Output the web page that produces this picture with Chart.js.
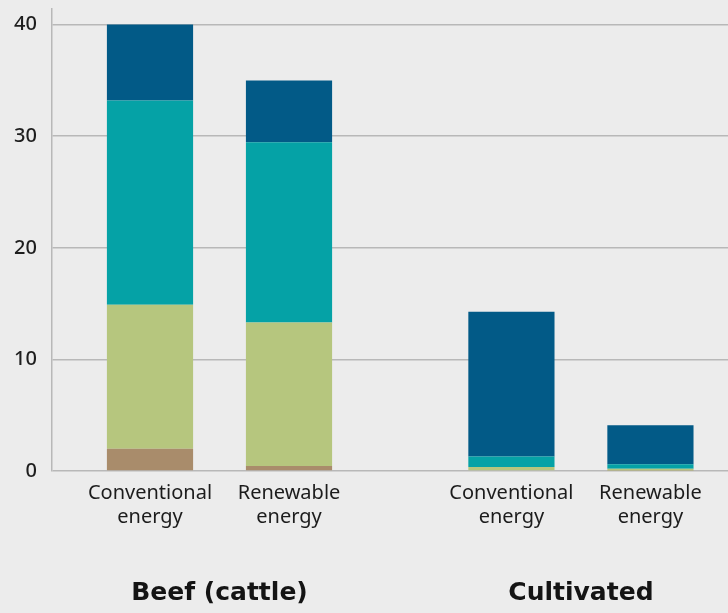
<!DOCTYPE html>
<html><head><meta charset="utf-8">
<script src="https://cdn.jsdelivr.net/npm/chart.js@4/dist/chart.umd.min.js"></script>
<style>html,body{margin:0;padding:0;background:#ececec;overflow:hidden}
#wrap{width:728px;height:613px;position:relative}</style></head>
<body><div id="wrap"><canvas id="c" width="728" height="613"></canvas></div>
<script>
// ---- data ----
const groups = ["Beef (cattle)", "Cultivated"];
const subCategories = [["Conventional", "energy"], ["Renewable", "energy"], ["Conventional", "energy"], ["Renewable", "energy"]];
const barGroup = [0, 0, 1, 1];
const seriesNames = ["Land use", "Feed & fertiliser", "Methane (CH\u2084)", "Energy (CO\u2082)"];
const landUseValues = [2.0, 0.45, 0.06, 0.05];
const feedValues = [12.9, 12.85, 0.3, 0.15];
const methaneValues = [18.3, 16.15, 0.95, 0.4];
const energyValues = [6.8, 5.55, 12.95, 3.5];
const yTicks = [0, 10, 20, 30, 40];

// ---- layout helpers ----
const GROUP_STRIDE = 2.6;
const xPos = barGroup.map((g, i) => g * GROUP_STRIDE + (i - barGroup.indexOf(g)));
const groupCenters = groups.map((_, g) => {
  const xs = xPos.filter((_, i) => barGroup[i] === g);
  return (Math.min(...xs) + Math.max(...xs)) / 2;
});
const XMIN = -0.705, XMAX = 4.158;
const colors = ["#a98c6b", "#b6c67e", "#05a2a6", "#025a87"];
const seriesValues = [landUseValues, feedValues, methaneValues, energyValues];

const datasets = seriesValues.map((vals, s) => ({
  label: seriesNames[s],
  data: vals.map((v, i) => ({ x: xPos[i], y: v })),
  backgroundColor: colors[s],
  borderWidth: 0,
  barPercentage: 0.62,
  categoryPercentage: 1,
  xAxisID: 'x'
}));

const FONT = "'Noto Sans', 'DejaVu Sans', sans-serif";
const noPad = s => { s.paddingLeft = 0; s.paddingRight = 0; s.paddingTop = 0; s.paddingBottom = 0; };

new Chart(document.getElementById('c'), {
  type: 'bar',
  data: { datasets },
  options: {
    responsive: false,
    animation: false,
    devicePixelRatio: 1,
    layout: { padding: { top: 9, right: 0, left: 0, bottom: 0 } },
    plugins: { legend: { display: false }, tooltip: { enabled: false } },
    scales: {
      x: {
        type: 'linear', offset: false, min: XMIN, max: XMAX, stacked: true, position: 'bottom', weight: 0,
        grid: { display: false, drawTicks: false }, border: { display: false },
        afterBuildTicks: s => { s.ticks = xPos.map(v => ({ value: v })); },
        afterFit: s => { s.height = 69; noPad(s); },
        ticks: {
          autoSkip: false, maxRotation: 0, minRotation: 0, padding: 10,
          color: '#1c1c1c', font: { family: FONT, size: 20, lineHeight: 1.22 },
          callback: (v, i) => subCategories[i]
        }
      },
      x2: {
        type: 'linear', offset: false, min: XMIN, max: XMAX, position: 'bottom', weight: 1,
        grid: { display: false, drawTicks: false }, border: { display: false },
        afterBuildTicks: s => { s.ticks = groupCenters.map(v => ({ value: v })); },
        afterFit: s => { s.height = 73; noPad(s); },
        ticks: {
          autoSkip: false, maxRotation: 0, minRotation: 0, padding: 38,
          color: '#141414', font: { family: "'DejaVu Sans', sans-serif", size: 25, weight: 'bold', lineHeight: 1.2 },
          callback: (v, i) => groups[i]
        }
      },
      y: {
        min: 0, max: 41.4, stacked: true,
        grid: { color: '#b8b8b8', lineWidth: 1.5, drawTicks: false },
        border: { color: '#b8b8b8', width: 1.5 },
        afterBuildTicks: s => { s.ticks = yTicks.map(v => ({ value: v })); },
        afterFit: s => { s.width = 52; noPad(s); },
        ticks: { padding: 15, color: '#1e1e1e', font: { family: FONT, size: 20, weight: '500' } }
      }
    }
  }
});
</script></body></html>
